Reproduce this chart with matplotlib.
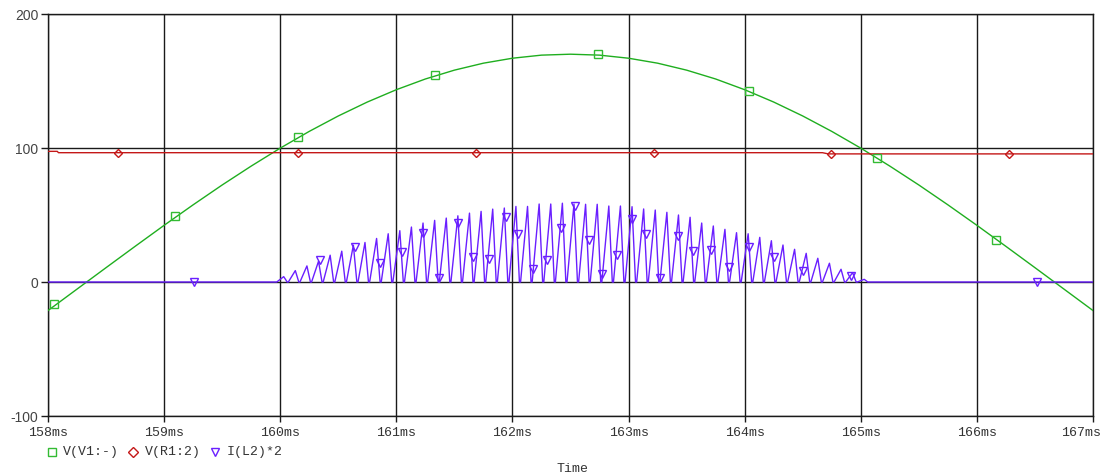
import matplotlib
matplotlib.use("Agg")
import matplotlib.pyplot as plt
from matplotlib.lines import Line2D
from matplotlib.transforms import ScaledTranslation
import numpy as np

# V(V1:-), every 0.25 ms
v1_t = [158.00, 158.25, 158.50, 158.75, 159.00, 159.25, 159.50, 159.75,
        160.00, 160.25, 160.50, 160.75, 161.00, 161.25, 161.50, 161.75,
        162.00, 162.25, 162.50, 162.75, 163.00, 163.25, 163.50, 163.75,
        164.00, 164.25, 164.50, 164.75, 165.00, 165.25, 165.50, 165.75,
        166.00, 166.25, 166.50, 166.75, 167.00]
v1_v = [-21.3, -5.3, 10.7, 26.6, 42.3, 57.6, 72.4, 86.5,
        99.9, 112.4, 123.9, 134.3, 143.5, 151.5, 158.1, 163.3,
        167.0, 169.3, 170.0, 169.3, 167.0, 163.3, 158.1, 151.5,
        143.5, 134.3, 123.9, 112.4, 99.9, 86.5, 72.4, 57.6,
        42.3, 26.6, 10.7, -5.3, -21.3]
v1_mark_t = [158.054, 159.093, 160.154, 161.337, 162.736, 164.041, 165.143, 166.164]
v1_mark_v = [-16.6, 49.3, 108.4, 154.7, 170.1, 142.8, 92.5, 31.3]

# V(R1:2)
r1_t = [158.00, 158.08, 158.09, 164.67, 164.72, 167.00]
r1_v = [97.5, 97.5, 96.5, 96.5, 95.6, 95.6]
r1_mark_t = [158.605, 160.149, 161.683, 163.215, 164.744, 166.279]
r1_mark_v = [96.5, 96.5, 96.5, 96.5, 95.6, 95.6]

# I(L2)*2 : peak time / height of each current pulse
pulse_t = [160.03 + 0.1 * k for k in range(51)]
pulse_a = [4, 8.5, 12, 15.5, 20, 23, 27.5, 29.5, 32.5, 36,
           38.3, 41, 44, 46, 47.7, 49.4, 51.4, 52.7, 54.4, 55.2,
           56.4, 56.4, 58.2, 58.2, 58.8, 58.2, 58.0, 58.0, 56.7, 56.7,
           56.2, 54.5, 53.7, 52.0, 50.0, 48.3, 44.0, 41.8, 39.3, 36.8,
           36.0, 33.3, 30.8, 27.6, 24.4, 21.4, 17.7, 14.0, 9.5, 7.0,
           2.0]
il2_mark_t = [159.256, 160.341, 160.642, 160.857, 161.053, 161.230, 161.365,
              161.534, 161.660, 161.798, 161.941, 162.047, 162.176, 162.300,
              162.421, 162.541, 162.656, 162.770, 162.903, 163.032, 163.152,
              163.273, 163.422, 163.553, 163.712, 163.863, 164.041, 164.251,
              164.504, 164.919, 166.52]
il2_mark_v = [0, 16.4, 26.4, 14, 22.6, 36.8, 3.2,
              43.8, 18.9, 17, 48.7, 35.8, 9.5, 16.4,
              40.4, 56.7, 31.3, 6, 20.1, 46.8, 35.8,
              3.2, 34.3, 23.1, 23.9, 10.9, 26.4, 18.9,
              8.5, 4.5, 0]

x_ticks = [158, 159, 160, 161, 162, 163, 164, 165, 166, 167]
y_ticks = [-100, 0, 100, 200]

green = "#1fae1f"
red = "#c41818"
blue = "#6a1fff"

# build the triangular pulse train
rise, fall = 0.06, 0.03
it = [158.0]
iv = [0.0]
for tp, a in zip(pulse_t, pulse_a):
    it += [tp - rise, tp, tp + fall]
    iv += [0.0, a, 0.0]
it.append(167.0)
iv.append(0.0)

fig = plt.figure(figsize=(11.05, 4.76), dpi=100)
ax = fig.add_axes([48 / 1105, 60 / 476, 1045 / 1105, 402 / 476])

for x in x_ticks:
    ax.axvline(x, color="#1a1a1a", lw=1.0, zorder=1)
for y in y_ticks:
    ax.axhline(y, color="#1a1a1a", lw=1.0, zorder=1)

ax.plot(v1_t, v1_v, color=green, lw=1.0, zorder=3)
ax.plot(v1_mark_t, v1_mark_v, ls="none", marker="s", ms=5.5, mfc="none",
        mec="#33bb33", mew=1.0, zorder=4)
ax.plot(r1_t, r1_v, color=red, lw=1.0, zorder=3)
ax.plot(r1_mark_t, r1_mark_v, ls="none", marker="D", ms=4.5, mfc="none",
        mec=red, mew=1.0, zorder=4)
ax.plot(it, iv, color=blue, lw=1.0, zorder=5)
ax.plot(il2_mark_t, il2_mark_v, ls="none", marker="v", ms=6, mfc="none",
        mec=blue, mew=1.0, zorder=6)

ax.set_xlim(158, 167)
ax.set_ylim(-100, 200)
ax.set_xticks(x_ticks)
ax.set_xticklabels([f"{x}ms" for x in x_ticks], family="Liberation Mono",
                   fontsize=9.5, color="#333333")
ax.set_yticks(y_ticks)
ax.set_yticklabels([str(y) for y in y_ticks], family="Liberation Sans",
                   fontsize=10, color="#444444")
ax.tick_params(axis="x", length=4, width=1, pad=4, color="#1a1a1a")
ax.tick_params(axis="y", length=5, width=1, pad=2, color="#1a1a1a")
for s in ax.spines.values():
    s.set_color("#1a1a1a")
    s.set_linewidth(1.0)

# the last time label is pulled in so it stays on the page
last = ax.get_xticklabels()[-1]
last.set_transform(last.get_transform() + ScaledTranslation(-0.12, 0, fig.dpi_scale_trans))

# legend row under the axis
leg = [("s", "#33bb33", 5.5, "V(V1:-)", 52, 63),
       ("D", red, 4.8, "V(R1:2)", 133, 145),
       ("v", blue, 6.0, "I(L2)*2", 215, 227)]
ly = 1 - 452 / 476
for mk, col, ms, label, mx, tx in leg:
    fig.add_artist(Line2D([mx / 1105], [ly], marker=mk, ms=ms, mfc="none",
                          mec=col, mew=1.0, ls="none"))
    fig.text(tx / 1105, ly, label, family="Liberation Mono", fontsize=9.5,
             color="#333333", va="center", ha="left")

fig.text(572 / 1105, 1 - 469 / 476, "Time", family="Liberation Mono",
         fontsize=9.5, color="#333333", ha="center", va="center")

fig.savefig("out.png", dpi=100)
